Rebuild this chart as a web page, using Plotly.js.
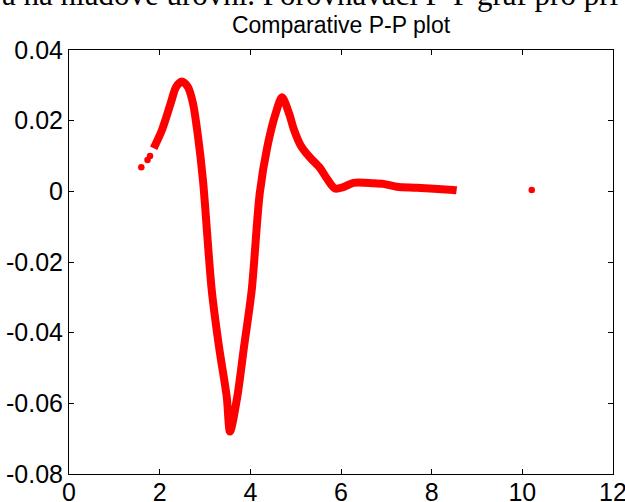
<!DOCTYPE html>
<html>
<head>
<meta charset="utf-8">
<script src="https://cdn.plot.ly/plotly-3.0.1.min.js"></script>
<style>html,body{margin:0;padding:0;background:#fff;}#chart{width:625px;height:502px;}</style>
</head>
<body>
<div id="chart"></div>
<script>
// Main dense band of P-P differences
const curveX = [1.868, 2.052, 2.243, 2.36, 2.486, 2.625, 2.735, 2.846, 2.956, 3.148, 3.309, 3.479, 3.552, 3.713, 3.861, 4.031, 4.207, 4.375, 4.56, 4.699, 4.853, 4.964, 5.111, 5.30, 5.537, 5.685, 5.868, 6.05, 6.272, 6.713, 6.934, 7.229, 7.671, 8.478, 8.55];
const curveY = [0.0122, 0.0174, 0.0249, 0.0295, 0.0311, 0.0295, 0.0249, 0.0155, 0.0030, -0.0279, -0.0440, -0.0581, -0.0680, -0.0581, -0.0440, -0.0279, -0.0006, 0.0126, 0.0221, 0.0266, 0.0221, 0.0174, 0.0130, 0.0098, 0.0066, 0.0037, 0.0008, 0.0012, 0.0024, 0.0023, 0.0021, 0.0013, 0.0010, 0.0004, 0.0003];
// Isolated points
const dotX = [1.595, 1.732, 1.787, 10.207];
const dotY = [0.0068, 0.0089, 0.0100, 0.0004];
// Ticks
const xTickVals = [0, 2, 4, 6, 8, 10, 12];
const xTickText = ['0', '2', '4', '6', '8', '10', '12'];
const yTickVals = [-0.08, -0.06, -0.04, -0.02, 0, 0.02, 0.04];
const yTickText = ['-0.08', '-0.06', '-0.04', '-0.02', '0', '0.02', '0.04'];
const titleText = 'Comparative P-P plot';
const topText = 'a na hladové úrovni. Porovnávací P-P graf pro při';

const red = '#ff0000';
const traces = [
  {x: curveX, y: curveY, type: 'scatter', mode: 'lines',
   line: {color: red, width: 8, shape: 'spline', smoothing: 0.8}, hoverinfo: 'none'},
  {x: dotX, y: dotY, type: 'scatter', mode: 'markers',
   marker: {color: red, size: 6.5}, hoverinfo: 'none'}
];
const tickFont = {family: 'Liberation Sans, Arial, sans-serif', size: 25, color: '#000'};
const axisCommon = {
  ticks: 'inside', ticklen: 5, tickwidth: 1, tickcolor: '#000',
  showline: true, linecolor: '#000', linewidth: 1, mirror: 'ticks',
  showgrid: false, zeroline: false, tickfont: tickFont, fixedrange: true,
  ticklabeloverflow: 'allow'
};
const layout = {
  width: 625, height: 502,
  margin: {l: 69, r: 12, t: 50, b: 28, pad: 0},
  paper_bgcolor: '#fff', plot_bgcolor: '#fff',
  showlegend: false,
  title: {text: titleText, font: {family: 'Liberation Sans, Arial, sans-serif', size: 23, color: '#000'},
          x: 0.5, xref: 'paper', xanchor: 'center', y: 1 - 25/502, yref: 'container', yanchor: 'middle'},
  xaxis: Object.assign({}, axisCommon, {range: [0, 12], tickmode: 'array', tickvals: xTickVals, ticktext: xTickText, ticklabelstandoff: -4}),
  yaxis: Object.assign({}, axisCommon, {range: [-0.08, 0.04], tickmode: 'array', tickvals: yTickVals, ticktext: yTickText}),
  annotations: [{
    text: topText, showarrow: false, xref: 'paper', yref: 'paper',
    x: -69/544, xanchor: 'left', y: (474 + 5)/424, yanchor: 'middle',
    font: {family: 'Liberation Serif, Times New Roman, serif', size: 31, color: '#000'}
  }]
};
Plotly.newPlot('chart', traces, layout, {displayModeBar: false, staticPlot: true});
</script>
</body>
</html>
